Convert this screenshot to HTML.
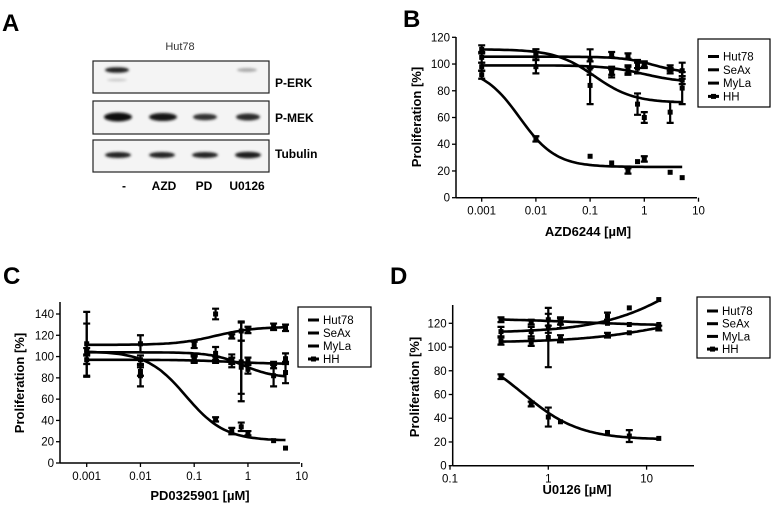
<!DOCTYPE html>
<html><head><meta charset="utf-8">
<style>
body{margin:0;background:#fff;}
svg{display:block;font-family:"Liberation Sans",Arial,sans-serif;}
</style></head>
<body>
<svg id="fig" width="772" height="505" viewBox="0 0 772 505">
<!-- Panel A -->
<g>
<text x="2" y="31" font-size="24" font-weight="bold">A</text>
<text x="180" y="50" font-size="11" text-anchor="middle" fill="#333">Hut78</text>
<defs><filter id="blur"><feGaussianBlur stdDeviation="1.3"/></filter></defs>
<rect x="93" y="61" width="176" height="32" fill="#f4f4f4" stroke="#222" stroke-width="1.2"/>
<rect x="93" y="101" width="176" height="33" fill="#f4f4f4" stroke="#222" stroke-width="1.2"/>
<rect x="93" y="140" width="176" height="32" fill="#f4f4f4" stroke="#222" stroke-width="1.2"/>
<g filter="url(#blur)">
<ellipse cx="117" cy="70" rx="12" ry="2.8" fill="#222"/>
<ellipse cx="117" cy="80" rx="10" ry="1.5" fill="#ccc"/>
<ellipse cx="247" cy="70" rx="10" ry="2" fill="#aaa"/>
<ellipse cx="118" cy="117" rx="14" ry="4.5" fill="#111"/>
<ellipse cx="163" cy="117" rx="14" ry="4" fill="#151515"/>
<ellipse cx="205" cy="117" rx="12" ry="3.3" fill="#333"/>
<ellipse cx="248" cy="117" rx="12" ry="3.5" fill="#2a2a2a"/>
<ellipse cx="118" cy="155" rx="13" ry="3" fill="#222"/>
<ellipse cx="162" cy="155" rx="13" ry="3" fill="#222"/>
<ellipse cx="205" cy="155" rx="13" ry="3" fill="#222"/>
<ellipse cx="248" cy="155" rx="13" ry="3.3" fill="#1a1a1a"/>
</g>
<g font-size="12" font-weight="bold">
<text x="275" y="87">P-ERK</text>
<text x="275" y="122">P-MEK</text>
<text x="275" y="158">Tubulin</text>
<text x="124" y="190" text-anchor="middle">-</text>
<text x="164" y="190" text-anchor="middle">AZD</text>
<text x="204" y="190" text-anchor="middle">PD</text>
<text x="247" y="190" text-anchor="middle">U0126</text>
</g>
</g>
<text x="403" y="27" font-size="24" font-weight="bold">B</text>
<text x="3" y="284" font-size="24" font-weight="bold">C</text>
<text x="390" y="284" font-size="24" font-weight="bold">D</text>
</svg>
<script>
// ---- Data ----
const seriesNames = ["Hut78","SeAx","MyLa","HH"];
// Panel B (AZD6244)
const bDoses = [0.001,0.01,0.1,0.25,0.5,0.75,1,3,5];
const bHut78 = [92,44,31,26,20,27,29,19,15];
const bSeAx  = [105,107,104,107,106,100,100,97,95];
const bMyLa  = [98,98,97,93,95,97,99,95,88];
const bHH    = [111,108,84,95,96,70,60,64,82];
const bErr   = [[3,2,1,1,2,1,2,1,1],[4,4,7,2,2,3,2,2,6],[3,5,5,3,3,4,2,2,3],[3,3,14,3,3,8,4,8,12]];
const bFit   = [[97,23,0.005,1.3],[105.5,93,1.5,1.5],[99,86,1,1.2],[111,71,0.12,1.2]];
const bYTicks = [0,20,40,60,80,100,120];
const bXTicks = ["0.001","0.01","0.1","1","10"];
// Panel C (PD0325901)
const cDoses = [0.001,0.01,0.1,0.25,0.5,0.75,1,3,5];
const cHut78 = [105,86,97,41,30,34,28,21,14];
const cSeAx  = [112,112,111,140,119,124,125,128,127];
const cMyLa  = [97,97,99,97,96,95,96,92,98];
const cHH    = [106,82,98,103,96,90,88,82,85];
const cErr   = [[3,4,3,2,3,4,2,1,1],[30,8,3,5,2,9,3,3,3],[4,4,3,3,3,37,3,3,5],[25,10,3,6,6,25,4,10,10]];
const cFit   = [[105,21,0.07,1.2],[111,128,0.25,1.2],[97,93,0.5,1],[104,80,0.8,1.5]];
const cYTicks = [0,20,40,60,80,100,120,140];
const cXTicks = ["0.001","0.01","0.1","1","10"];
// Panel D (U0126)
const dDoses = [0.33,0.67,1,1.33,4,6.67,13.3];
const dHut78 = [75,52,41,37,28,25,23];
const dSeAx  = [123,121,123,122,120,119,119];
const dMyLa  = [105,104,108,107,110,112,116];
const dHH    = [113,113,117,120,126,133,140];
const dErr   = [[2,2,8,1,1,5,1],[2,2,5,3,1,1,1],[3,3,25,3,2,1,2],[4,4,5,4,3,1,1]];
const dFit   = [[100,22,0.55,1.5],[124,118,2,1],[104,130,15,1],[112,200,30,1]];
const dYTicks = [0,20,40,60,80,100,120];
const dXTicks = ["0.1","1","10"];

const NS="http://www.w3.org/2000/svg";
const svg=document.getElementById('fig');
function mk(tag,attrs,parent){const e=document.createElementNS(NS,tag);for(const k in attrs)e.setAttribute(k,attrs[k]);(parent||svg).appendChild(e);return e;}

function drawPanel(p){
  const g=mk('g',{});
  
  
  const xs=v=>p.x0+(Math.log10(v)-p.lx0)*p.dec;
  const ys=v=>p.y0-v*p.ppu;
  // axes
  const ya=mk('line',{x1:p.x0a,y1:p.y0,x2:p.x0a,y2:p.ytop,stroke:'#000','stroke-width':1.5},g);
  
  
  const xa=mk('line',{x1:p.x0a,y1:p.y0,x2:p.xend,y2:p.y0,stroke:'#000','stroke-width':1.5},g);
  
  
  p.yt.forEach(v=>{
    mk('line',{x1:p.x0a-4,y1:ys(v),x2:p.x0a,y2:ys(v),stroke:'#000','stroke-width':1.3},g);
    const t=mk('text',{x:p.x0a-6,y:ys(v)+4,'font-size':11.5,'text-anchor':'end'},g);t.textContent=v;
    
    
  });
  p.xt.forEach(s=>{
    const x=xs(parseFloat(s));
    mk('line',{x1:x,y1:p.y0,x2:x,y2:p.y0+4,stroke:'#000','stroke-width':1.3},g);
    const t=mk('text',{x:x,y:p.y0+17,'font-size':11.5,'text-anchor':'middle'},g);t.textContent=s;
    
    
  });
  const xt=mk('text',{x:p.xlx,y:p.xly,'font-size':13,'font-weight':'bold','text-anchor':'middle'},g);xt.textContent=p.xlabel;
  
  
  const yt=mk('text',{x:0,y:0,'font-size':13,'font-weight':'bold','text-anchor':'middle',transform:`translate(${p.ylx},${p.yly}) rotate(-90)`},g);yt.textContent='Proliferation [%]';
  
  
  // series
  p.series.forEach((vals,si)=>{
    const f=p.fit[si];
    const lo=Math.log10(p.doses[0]),hi=Math.log10(p.doses[p.doses.length-1]);
    let d='';
    for(let i=0;i<=80;i++){const lx=lo+(hi-lo)*i/80;const x=Math.pow(10,lx);
      const y=f[1]+(f[0]-f[1])/(1+Math.pow(x/f[2],f[3]));
      d+=(i?'L':'M')+xs(x).toFixed(1)+','+ys(y).toFixed(1);}
    const c=mk('path',{d:d,fill:'none',stroke:'#000','stroke-width':2.6},g);
    
    
    vals.forEach((v,i)=>{
      const x=xs(p.doses[i]),e=p.err[si][i];
      if(e>1.5){
        const eb=mk('path',{d:`M${x},${ys(v-e)}V${ys(v+e)}M${x-3.5},${ys(v-e)}h7M${x-3.5},${ys(v+e)}h7`,stroke:'#000','stroke-width':2.2,fill:'none'},g);
        
        
      }
      const m=mk('rect',{x:x-2.5,y:ys(v)-2.5,width:5,height:5,fill:'#000'},g);
      
      
    });
  });
  // legend
  const lg=mk('g',{},g);
  
  
  mk('rect',{x:p.lgx,y:p.lgy,width:p.lgw,height:p.lgh,fill:'#fff',stroke:'#000','stroke-width':1.2},lg);
  seriesNames.forEach((n,i)=>{
    const y=p.lgy+p.lg0+i*p.lgs;
    const le=mk('g',{},lg);
    
    
    mk('line',{x1:p.lgx+10,y1:y,x2:p.lgx+21,y2:y,stroke:'#000','stroke-width':3},le);
    if(i==3)mk('rect',{x:p.lgx+13,y:y-2.5,width:5,height:5,fill:'#000'},le);
    const t=mk('text',{x:p.lgx+25,y:y+4,'font-size':11.5},le);t.textContent=n;
  });
}
drawPanel({name:'panel-b',x0:481.7,lx0:-3,dec:54.2,x0a:456,xend:697,y0:197.7,ytop:37,ppu:160.4/120,
  yt:bYTicks,xt:bXTicks,doses:bDoses,series:[bHut78,bSeAx,bMyLa,bHH],err:bErr,fit:bFit,
  xlabel:'AZD6244 [µM]',xlx:588,xly:236,ylx:421,yly:117,lgx:698,lgy:39,lgw:72,lgh:68,lg0:17.5,lgs:13.3});
drawPanel({name:'panel-c',x0:86.7,lx0:-3,dec:53.75,x0a:60,xend:300,y0:463,ytop:302,ppu:149/140,
  yt:cYTicks,xt:cXTicks,doses:cDoses,series:[cHut78,cSeAx,cMyLa,cHH],err:cErr,fit:cFit,
  xlabel:'PD0325901 [µM]',xlx:200,xly:500,ylx:24,yly:383,lgx:298,lgy:307,lgw:73,lgh:60,lg0:13,lgs:13});
drawPanel({name:'panel-d',x0:450,lx0:-1,dec:98.3,x0a:452.7,xend:694,y0:465.7,ytop:305,ppu:142.4/120,
  yt:dYTicks,xt:dXTicks,doses:dDoses,series:[dHut78,dSeAx,dMyLa,dHH],err:dErr,fit:dFit,
  xlabel:'U0126 [µM]',xlx:577,xly:494,ylx:419,yly:387,lgx:697,lgy:297,lgw:73,lgh:61,lg0:14,lgs:12.7});
</script>
</body></html>
